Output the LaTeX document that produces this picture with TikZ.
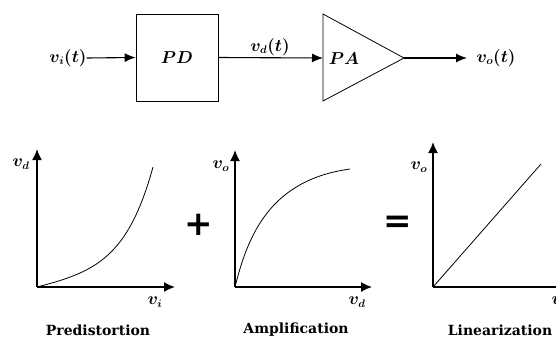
\documentclass[tikz,border=0pt]{standalone}
\usepackage{fontspec}
\setmainfont{DejaVu Serif}
\newfontfamily\symfont{DejaVu Sans}
\usetikzlibrary{arrows.meta}
\tikzset{
  sig/.style={line width=1.1pt, -{Latex[length=11pt,width=9pt]}},
  axis/.style={line width=1.6pt, -{Latex[length=11pt,width=10pt]}},
  curve/.style={line width=0.8pt},
  lbl/.style={font=\fontsize{16}{18}\selectfont\boldmath, inner sep=0pt},
  caption/.style={font=\fontsize{14}{16}\selectfont\bfseries, inner sep=0pt},
  opsym/.style={font=\fontsize{34}{36}\selectfont\symfont\bfseries, inner sep=0pt}
}
\begin{document}
\begin{tikzpicture}[x=1pt,y=-1pt]
 \useasboundingbox (0,0) rectangle (556,340);
 \clip (0,0) rectangle (556,340);
 % block diagram
 \node[lbl] (vi) at (68,58) {$v_i(t)$};
 \node[draw, line width=0.8pt, minimum width=82pt, minimum height=87pt] (pd) at (177,57.5) {};
 \node[lbl] (pdtext) at (177,58) {$PD$};
 \coordinate (pain) at (323,58);
 \coordinate (patop) at (323,14);
 \coordinate (pabot) at (323,101);
 \coordinate (paout) at (404,58);
 \draw[line width=0.8pt] (patop) -- (paout) -- (pabot) -- cycle;
 \node[lbl] (patext) at (344,59) {$PA$};
 \node[lbl] (vd) at (270,47) {$v_d(t)$};
 \node[lbl] (vo) at (496,58) {$v_o(t)$};
 \coordinate (voin) at (467,58);
 \draw[sig] (vi.east) -- (pd.west);
 \draw[sig] (pd.east) -- (pain);
 \draw[sig] (paout) -- (voin);
 % predistortion
 \coordinate (o1) at (37,287);
 \draw[axis] (o1) -- (37,149);
 \draw[axis] (o1) -- (175,287);
 \draw[curve] (o1) .. controls (95,272) and (128,258) .. (153,167);
 \node[lbl] (ya) at (21,164) {$v_d$};
 \node[lbl] (xa) at (155,302) {$v_i$};
 \node[caption] (cap1) at (98,330) {Predistortion};
 \node[opsym] (plus) at (199,225) {+};
 % amplification
 \coordinate (o2) at (235,287);
 \draw[axis] (o2) -- (235,150);
 \draw[axis] (o2) -- (372,287);
 \draw[curve] (o2) .. controls (248,235) and (270,180) .. (350,169);
 \node[lbl] (yb) at (221,166) {$v_o$};
 \node[lbl] (xb) at (357,302) {$v_d$};
 \node[caption] (cap2) at (296,330) {Amplification};
 \node[opsym] (eq) at (398,224) {=};
 % linearization
 \coordinate (o3) at (433,287);
 \draw[axis] (o3) -- (433,142);
 \draw[axis] (o3) -- (572,287);
 \draw[curve] (o3) -- (541,164);
 \node[lbl] (yc) at (419,167) {$v_o$};
 \node[lbl] (xc) at (559,302) {$v_i$};
 \node[caption] (cap3) at (500,330) {Linearization};
\end{tikzpicture}
\end{document}
